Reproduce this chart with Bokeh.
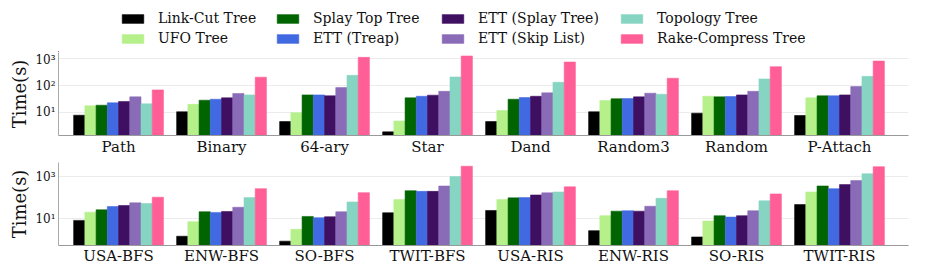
from bokeh.plotting import figure
from bokeh.models import (ColumnDataSource, FixedTicker, Range1d, Legend, LegendItem)
from bokeh.layouts import column
from bokeh.transform import dodge
from bokeh.embed import file_html
from bokeh.resources import INLINE

# ---------------- data ----------------
series_names = ["Link-Cut Tree", "UFO Tree", "Splay Top Tree", "ETT (Treap)",
                "ETT (Splay Tree)", "ETT (Skip List)", "Topology Tree", "Rake-Compress Tree"]
series_colors = ["#000000", "#b5f08a", "#006400", "#4169e1",
                 "#3f0f62", "#8a6bb8", "#86d5c3", "#ff5e96"]

top_categories = ["Path", "Binary", "64-ary", "Star", "Dand", "Random3", "Random", "P-Attach"]
link_cut_top = [7.9, 10.6, 4.6, 1.9, 4.6, 10.6, 9.4, 7.7]
ufo_top = [17.7, 20, 9.8, 4.8, 11.8, 27.8, 40, 35]
splay_top_top = [18.6, 28.6, 45, 35, 31, 32.4, 38, 41.7]
ett_treap_top = [22.8, 31, 45, 40, 36, 33, 39, 41.7]
ett_splay_top = [25.6, 35, 41.7, 44, 40, 38, 45, 45]
ett_skip_top = [38, 50.6, 84, 61, 53.5, 52, 61, 92]
topology_top = [21, 45, 240, 210, 133, 47.6, 177, 220]
rc_top = [69, 205, 1120, 1260, 750, 187, 505, 815]

bottom_categories = ["USA-BFS", "ENW-BFS", "SO-BFS", "TWIT-BFS", "USA-RIS", "ENW-RIS", "SO-RIS", "TWIT-RIS"]
link_cut_bot = [8.3, 1.46, 0.85, 19.2, 24.6, 2.7, 1.35, 47]
ufo_bot = [20.5, 7.2, 3.1, 81, 81, 13.9, 7.7, 187]
splay_top_bot = [26.5, 21.4, 12.8, 215, 98, 22.8, 13.9, 360]
ett_treap_bot = [38, 19.9, 11.2, 200, 101, 24, 11.9, 270]
ett_splay_bot = [42.5, 22, 12.4, 200, 135, 22.8, 13.9, 420]
ett_skip_bot = [57, 35, 21.4, 360, 170, 39, 24, 650]
topology_bot = [53, 101, 63, 1030, 187, 94, 71, 1380]
rc_bot = [105, 270, 174, 3150, 330, 215, 151, 3000]

top_ticks = [10, 100, 1000]
bottom_ticks = [10, 1000]
tick_labels = {10: "10¹", 100: "10²", 1000: "10³"}

top_series = [link_cut_top, ufo_top, splay_top_top, ett_treap_top,
              ett_splay_top, ett_skip_top, topology_top, rc_top]
bot_series = [link_cut_bot, ufo_bot, splay_top_bot, ett_treap_bot,
              ett_splay_bot, ett_skip_bot, topology_bot, rc_bot]

FONT = "DejaVu Serif"
BAR_W = 0.109
FRAME_W = 850
LEFT = 58
RIGHT = 10
TOTAL_W = LEFT + FRAME_W + RIGHT


def make_panel(categories, series, y_lo, y_hi, ticks, border_top, frame_h, label_standoff):
    src = ColumnDataSource(dict(
        x=list(range(len(categories))),
        **{f"s{i}": vals for i, vals in enumerate(series)}))
    p = figure(frame_width=FRAME_W, frame_height=frame_h, y_axis_type="log",
               x_range=Range1d(-0.583, 7.67), y_range=Range1d(y_lo, y_hi),
               output_backend="svg", toolbar_location=None,
               min_border_left=LEFT, min_border_right=RIGHT,
               min_border_top=border_top, min_border_bottom=0)
    for i, (name, col) in enumerate(zip(series_names, series_colors)):
        p.vbar(x=dodge("x", (i - 3.5) * BAR_W), top=f"s{i}", bottom=y_lo * 0.5,
               width=BAR_W, source=src, fill_color=col, line_color=col,
               line_alpha=0.55, line_width=1)
    p.outline_line_color = None
    p.background_fill_color = "white"
    p.xgrid.visible = False
    p.ygrid.grid_line_color = "#ececec"
    p.ygrid.grid_line_width = 1
    p.ygrid.ticker = FixedTicker(ticks=ticks)

    xa = p.xaxis[0]
    xa.ticker = FixedTicker(ticks=list(range(len(categories))))
    xa.major_label_overrides = {i: c for i, c in enumerate(categories)}
    xa.major_label_text_font = FONT
    xa.major_label_text_font_size = "15px"
    xa.major_label_text_color = "#111111"
    xa.major_label_standoff = label_standoff
    xa.major_tick_line_color = None
    xa.major_tick_out = 0
    xa.major_tick_in = 0
    xa.minor_tick_line_color = None
    xa.minor_tick_out = 0
    xa.minor_tick_in = 0
    xa.axis_line_color = "#999999"
    xa.axis_line_width = 1.2

    ya = p.yaxis[0]
    ya.ticker = FixedTicker(ticks=ticks)
    ya.major_label_overrides = {t: tick_labels[t] for t in ticks}
    ya.major_label_text_font = FONT
    ya.major_label_text_font_size = "12px"
    ya.major_label_text_color = "#111111"
    ya.major_label_standoff = 3
    ya.major_tick_line_color = None
    ya.major_tick_out = 0
    ya.major_tick_in = 0
    ya.minor_tick_line_color = None
    ya.minor_tick_out = 0
    ya.minor_tick_in = 0
    ya.axis_line_color = "#aaaaaa"
    ya.axis_line_width = 1
    ya.axis_label = "Time(s)"
    ya.axis_label_text_font = FONT
    ya.axis_label_text_font_size = "18px"
    ya.axis_label_text_font_style = "normal"
    ya.axis_label_text_color = "#111111"
    ya.axis_label_standoff = 2
    return p


top = make_panel(top_categories, top_series, 10 ** 0.143, 10 ** 3.23, top_ticks, 0, 83, 2)
bottom = make_panel(bottom_categories, bot_series, 10 ** -0.277, 10 ** 3.676, bottom_ticks, 4, 83, 1)

# ---------------- legend strip ----------------
LEG_H = 52
leg = figure(width=TOTAL_W, height=LEG_H, x_range=Range1d(0, TOTAL_W),
             y_range=Range1d(0, LEG_H), x_axis_location=None, y_axis_location=None,
             output_backend="svg", toolbar_location=None,
             min_border=0, min_border_left=0, min_border_right=0,
             min_border_top=0, min_border_bottom=0)
leg.outline_line_color = None
leg.grid.visible = False
dummies = []
for name, col in zip(series_names, series_colors):
    r = leg.vbar(x=[-1000], top=[1], bottom=[0], width=1, fill_color=col,
                 line_color=col, line_alpha=0.55)
    dummies.append(r)

col_x = [61, 216, 381, 560]
for c in range(4):
    items = [LegendItem(label=series_names[c * 2 + k], renderers=[dummies[c * 2 + k]])
             for k in range(2)]
    lg = Legend(items=items, location=(col_x[c], 5), orientation="vertical",
                padding=0, margin=0, spacing=2, border_line_color=None,
                background_fill_alpha=0, glyph_width=27, glyph_height=11,
                label_height=18, label_standoff=12,
                label_text_font=FONT, label_text_font_size="14px",
                label_text_color="#111111")
    leg.add_layout(lg)

layout = column(leg, top, bottom, spacing=0)
open("out.html", "w").write(file_html(layout, INLINE))
